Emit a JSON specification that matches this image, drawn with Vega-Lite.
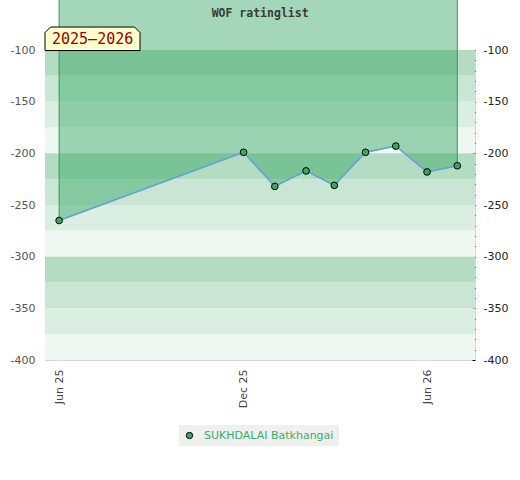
{
  "$schema": "https://vega.github.io/schema/vega-lite/v6.json",
  "autosize": "none",
  "width": 430,
  "height": 310,
  "padding": {"left": 45, "top": 50, "right": 45, "bottom": 120},
  "background": "white",
  "config": {
    "view": {"stroke": "#d8d8d8", "strokeWidth": 1},
    "font": "DejaVu Sans"
  },
  "datasets": {
    "bands": [
      {"lo": -125, "hi": -100, "shade": "a"},
      {"lo": -150, "hi": -125, "shade": "b"},
      {"lo": -175, "hi": -150, "shade": "c"},
      {"lo": -200, "hi": -175, "shade": "d"},
      {"lo": -225, "hi": -200, "shade": "a"},
      {"lo": -250, "hi": -225, "shade": "b"},
      {"lo": -275, "hi": -250, "shade": "c"},
      {"lo": -300, "hi": -275, "shade": "d"},
      {"lo": -325, "hi": -300, "shade": "a"},
      {"lo": -350, "hi": -325, "shade": "b"},
      {"lo": -375, "hi": -350, "shade": "c"},
      {"lo": -400, "hi": -375, "shade": "d"}
    ],
    "ratings": [
      {"date": "2025-06-01", "rating": -265, "player": "SUKHDALAI Batkhangai"},
      {"date": "2025-12-01", "rating": -199, "player": "SUKHDALAI Batkhangai"},
      {"date": "2026-01-01", "rating": -232, "player": "SUKHDALAI Batkhangai"},
      {"date": "2026-02-01", "rating": -217, "player": "SUKHDALAI Batkhangai"},
      {"date": "2026-03-01", "rating": -231, "player": "SUKHDALAI Batkhangai"},
      {"date": "2026-04-01", "rating": -199, "player": "SUKHDALAI Batkhangai"},
      {"date": "2026-05-01", "rating": -193, "player": "SUKHDALAI Batkhangai"},
      {"date": "2026-06-01", "rating": -218, "player": "SUKHDALAI Batkhangai"},
      {"date": "2026-07-01", "rating": -212, "player": "SUKHDALAI Batkhangai"}
    ]
  },
  "encoding": {
    "x": {
      "field": "date",
      "type": "temporal",
      "scale": {
        "type": "utc",
        "domain": [
          {"year": 2025, "month": 5, "date": 18, "utc": true},
          {"year": 2026, "month": 7, "date": 18, "hours": 14, "utc": true}
        ]
      },
      "axis": {
        "title": null,
        "values": [
          {"year": 2025, "month": 6, "date": 1, "utc": true},
          {"year": 2025, "month": 12, "date": 1, "utc": true},
          {"year": 2026, "month": 6, "date": 1, "utc": true}
        ],
        "format": "%b %y",
        "labelAngle": -90,
        "labelFontSize": 11,
        "labelColor": "#444444",
        "labelPadding": 9,
        "ticks": false,
        "domain": false,
        "grid": false
      }
    }
  },
  "layer": [
    {
      "data": {"name": "bands"},
      "mark": {"type": "rect"},
      "encoding": {
        "x": {"value": 0},
        "x2": {"value": 430},
        "y": {
          "field": "lo",
          "type": "quantitative",
          "scale": {"domain": [-400, -100], "nice": false, "zero": false},
          "axis": {
            "title": null,
            "orient": "left",
            "values": [-400, -350, -300, -250, -200, -150, -100],
            "labelExpr": "replace(datum.label, '\u2212', '-')",
            "labelFontSize": 11,
            "labelColor": "#555555",
            "labelPadding": 10,
            "ticks": false,
            "domain": false,
            "grid": false
          }
        },
        "y2": {"field": "hi"},
        "fill": {
          "field": "shade",
          "type": "nominal",
          "scale": {"domain": ["a", "b", "c", "d"], "range": ["#b3dcc2", "#c8e6d3", "#dbeee2", "#eef7f1"]},
          "legend": null
        }
      }
    },
    {
      "data": {"name": "ratings"},
      "mark": {"type": "area", "fill": "#2ca25f", "fillOpacity": 0.43, "stroke": "#2f9e55", "strokeWidth": 1, "strokeOpacity": 1},
      "encoding": {
        "y": {
          "field": "rating",
          "type": "quantitative",
          "axis": {
            "title": null,
            "orient": "right",
            "values": [-400, -390, -380, -370, -360, -350, -340, -330, -320, -310, -300, -290, -280, -270, -260, -250, -240, -230, -220, -210, -200, -190, -180, -170, -160, -150, -140, -130, -120, -110, -100],
            "labelExpr": "datum.value % 50 === 0 ? replace(datum.label, '\u2212', '-') : ''",
            "labelFontSize": 11,
            "labelColor": "#222222",
            "labelPadding": 8,
            "offset": -3,
            "tickSize": 3,
            "tickColor": "#000000",
            "tickWidth": 1,
            "domain": false,
            "grid": false
          }
        },
        "y2": {"datum": -45}
      }
    },
    {
      "data": {"name": "ratings"},
      "mark": {"type": "line", "color": "#66a3dd", "strokeWidth": 1.5},
      "encoding": {
        "y": {"field": "rating", "type": "quantitative", "axis": null}
      }
    },
    {
      "data": {"name": "ratings"},
      "mark": {"type": "point", "filled": true, "size": 45, "stroke": "#000000", "strokeWidth": 1, "opacity": 1},
      "encoding": {
        "y": {"field": "rating", "type": "quantitative", "axis": null},
        "fill": {
          "field": "player",
          "type": "nominal",
          "scale": {"range": ["#3aa660"]},
          "legend": {
            "title": null,
            "orient": "none",
            "legendX": 134,
            "legendY": 375,
            "direction": "horizontal",
            "fillColor": "#f0f0f0",
            "padding": 5,
            "labelOffset": 9,
            "labelColor": "#3cae63",
            "labelFontSize": 11,
            "symbolType": "circle",
            "symbolSize": 40,
            "symbolStrokeColor": "#000000",
            "symbolStrokeWidth": 1
          }
        }
      }
    },
    {
      "data": {"name": "ratings"},
      "transform": [
        {"window": [{"op": "row_number", "as": "idx"}]},
        {"filter": "datum.idx === 1"}
      ],
      "layer": [
        {
          "mark": {
            "type": "text",
            "text": "WOF ratinglist",
            "font": "DejaVu Sans Mono",
            "fontSize": 11.5,
            "fontWeight": "bold",
            "color": "#3a3a3a",
            "align": "center",
            "baseline": "alphabetic",
            "dx": 201
          },
          "encoding": {
            "y": {"datum": -68, "type": "quantitative", "axis": null}
          }
        },
        {
          "mark": {
            "type": "point",
            "shape": "M-0.282,0.238L-0.282,-0.122L-0.172,-0.232L1.508,-0.232L1.618,-0.122L1.618,0.238Z",
            "filled": true,
            "fill": "#ffffcc",
            "stroke": "#000000",
            "strokeWidth": 1,
            "size": 10000,
            "opacity": 1
          },
          "encoding": {
            "y": {"datum": -89, "type": "quantitative", "axis": null}
          }
        },
        {
          "mark": {
            "type": "text",
            "text": "2025–2026",
            "font": "DejaVu Sans Mono",
            "fontSize": 15,
            "color": "#990000",
            "align": "center",
            "baseline": "middle",
            "dx": 33.5
          },
          "encoding": {
            "y": {"datum": -89.5, "type": "quantitative", "axis": null}
          }
        }
      ]
    }
  ],
  "resolve": {"axis": {"y": "independent"}, "scale": {"fill": "independent"}}
}
